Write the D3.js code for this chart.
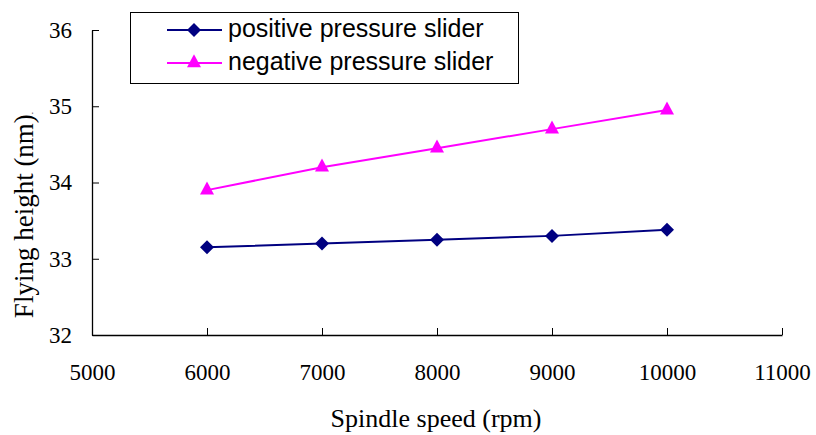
<!DOCTYPE html>
<html>
<head>
<meta charset="utf-8">
<script src="https://cdn.jsdelivr.net/npm/d3@7"></script>
<style>
  body { margin: 0; background: #fff; }
</style>
</head>
<body>
<div class="chart"></div>
<script>
// spindle speeds (rpm) and flying heights (nm)
const speeds = [6000, 7000, 8000, 9000, 10000];
const positiveHeights = [33.15, 33.2, 33.25, 33.3, 33.38];
const negativeHeights = [33.9, 34.2, 34.45, 34.7, 34.95];
const xTicks = [5000, 6000, 7000, 8000, 9000, 10000, 11000];
const yTicks = [32, 33, 34, 35, 36];
const seriesNames = ["positive pressure slider", "negative pressure slider"];

const W = 816, H = 435;
const margin = { top: 30, right: 34, bottom: 100, left: 92 };
const width = W - margin.left - margin.right;
const height = H - margin.top - margin.bottom;
const serif = "'Liberation Serif', 'Times New Roman', serif";

const svg = d3.select(".chart")
  .append("svg")
  .attr("width", W)
  .attr("height", H);

const g = svg.append("g")
  .attr("transform", "translate(" + margin.left + "," + margin.top + ")");

const xScale = d3.scaleLinear().domain([5000, 11000]).range([0, width]);
const yScale = d3.scaleLinear().domain([32, 36]).range([height, 0]);

// axes with inward ticks
const xAxis = g.append("g")
  .attr("transform", "translate(0," + height + ")")
  .call(d3.axisBottom(xScale).tickValues(xTicks).tickSizeInner(-7).tickSizeOuter(0).tickPadding(29).tickFormat(d3.format("d")));

const yAxis = g.append("g")
  .call(d3.axisLeft(yScale).tickValues(yTicks).tickSizeInner(-7).tickSizeOuter(0).tickPadding(20).tickFormat(d3.format("d")));

[xAxis, yAxis].forEach(a => {
  a.attr("font-family", serif).attr("font-size", 23);
  a.select(".domain").attr("stroke", "#000").attr("stroke-width", 1.3);
  a.selectAll(".tick line").attr("stroke", "#000");
  a.selectAll("text").attr("fill", "#000");
});

// axis titles
svg.append("text")
  .attr("x", 436)
  .attr("y", 427)
  .attr("text-anchor", "middle")
  .style("font-family", serif)
  .style("font-size", "26px")
  .text("Spindle speed (rpm)");

const yTitle = svg.append("text")
  .attr("transform", "translate(33,215) rotate(-90)")
  .attr("text-anchor", "middle")
  .style("font-family", serif)
  .style("font-size", "27px")
  .text("Flying height (nm)");
yTitle.append("tspan").style("font-size", "9px").text(".");

// marker shapes: diamond and upward triangle
function diamond(r) {
  return "M0," + (-r) + "L" + r + ",0L0," + r + "L" + (-r) + ",0Z";
}
function triangle(w, h) {
  return "M0," + (-2 * h / 3) + "L" + (w / 2) + "," + (h / 3) + "L" + (-w / 2) + "," + (h / 3) + "Z";
}

const line = d3.line()
  .x(d => xScale(d[0]))
  .y(d => yScale(d[1]));

const series = [
  { name: seriesNames[0], values: d3.zip(speeds, positiveHeights), color: "#000080", marker: diamond(7) },
  { name: seriesNames[1], values: d3.zip(speeds, negativeHeights), color: "#ff00ff", marker: triangle(14, 13) }
];

series.forEach(s => {
  g.append("path")
    .datum(s.values)
    .attr("fill", "none")
    .attr("stroke", s.color)
    .attr("stroke-width", 2)
    .attr("d", line);

  g.selectAll(null)
    .data(s.values)
    .enter().append("path")
    .attr("transform", d => "translate(" + xScale(d[0]) + "," + yScale(d[1]) + ")")
    .attr("d", s.marker)
    .attr("fill", s.color);
});

// legend
const legend = svg.append("g");
legend.append("rect")
  .attr("x", 130.5)
  .attr("y", 12.5)
  .attr("width", 388)
  .attr("height", 71)
  .attr("fill", "#fff")
  .attr("stroke", "#000")
  .attr("stroke-width", 1);

series.forEach((s, i) => {
  const y = 30 + i * 33;
  legend.append("line")
    .attr("x1", 167).attr("x2", 222)
    .attr("y1", y).attr("y2", y)
    .attr("stroke", s.color)
    .attr("stroke-width", 2);
  legend.append("path")
    .attr("transform", "translate(194," + y + ")")
    .attr("d", s.marker)
    .attr("fill", s.color);
  legend.append("text")
    .attr("x", 228)
    .attr("y", y + 7)
    .style("font-family", "'Liberation Sans', Arial, sans-serif")
    .style("font-size", "25px")
    .text(s.name);
});
</script>
</body>
</html>
